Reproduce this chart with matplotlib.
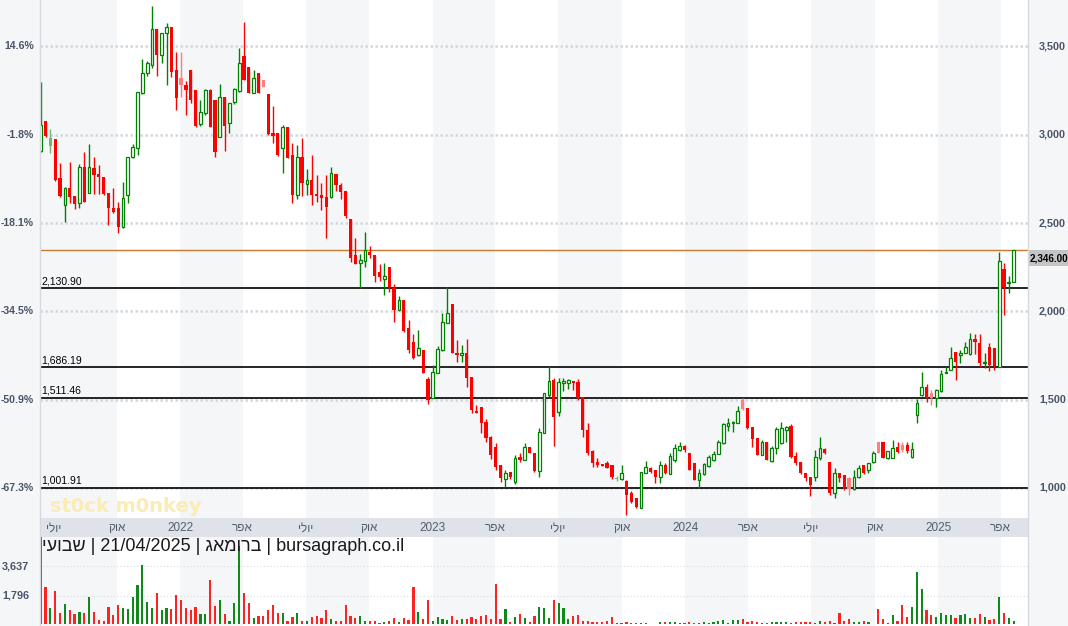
import matplotlib
matplotlib.use('Agg')
import matplotlib.pyplot as plt
import matplotlib.dates as mdates
import matplotlib.transforms as mtrans
from matplotlib.lines import Line2D
from matplotlib.patches import Rectangle
import numpy as np
import pandas as pd

plt.rcParams['font.family'] = ['Liberation Sans', 'DejaVu Sans']

# ---- weekly data ----
last_date = '2025-04-20'

opens = [2908, 3078, 2937, 2976, 2755, 2603, 2699, 2654, 2614, 2818,
         2671, 2812, 2778, 2761, 2671, 2586, 2586, 2478, 2659, 2874,
         2925, 3237, 3350, 3395, 3599, 3452, 3577, 3611, 3367, 3322,
         3282, 3367, 3254, 3061, 3124, 3254, 3197, 2988, 3214, 3067,
         3186, 3248, 3446, 3384, 3237, 3350, 3311, 3231, 3010, 3010,
         2925, 3044, 2886, 2659, 2874, 2721, 2744, 2665, 2659, 2648,
         2648, 2778, 2716, 2682, 2523, 2319, 2274, 2285, 2336, 2319,
         2223, 2183, 2251, 2133, 2008, 2065, 1906, 1827, 1753, 1781,
         1617, 1510, 1651, 1781, 1934, 2042, 1764, 1753, 1764, 1629,
         1436, 1459, 1374, 1289, 1232, 1130, 1051, 1091, 1034, 1176,
         1159, 1232, 1198, 1096, 1311, 1527, 1612, 1430, 1595, 1595,
         1606, 1600, 1515, 1328, 1210, 1147, 1136, 1142, 1130, 1051,
         1051, 1040, 972, 943, 886, 1085, 1113, 1102, 1062, 1130,
         1079, 1159, 1215, 1238, 1198, 1142, 1045, 1079, 1125, 1159,
         1193, 1255, 1351, 1368, 1368, 1498, 1453, 1345, 1283, 1187,
         1260, 1153, 1227, 1255, 1328, 1351, 1181, 1147, 1085, 1062,
         1062, 1170, 1221, 1147, 972, 1085, 1074, 1057, 994, 1062,
         1130, 1102, 1147, 1260, 1260, 1170, 1170, 1232, 1244, 1244,
         1176, 1413, 1527, 1572, 1538, 1510, 1549, 1651, 1668, 1770,
         1753, 1764, 1759, 1844, 1821, 1708, 1798, 1793, 1685, 2240,
         2161, 2167]

highs = [3299, 3080, 3033, 2976, 2840, 2704, 2846, 2654, 2835, 2903,
         2948, 2874, 2829, 2761, 2671, 2699, 2620, 2733, 2874, 2948,
         3243, 3429, 3418, 3729, 3599, 3577, 3633, 3611, 3469, 3469,
         3305, 3367, 3254, 3197, 3260, 3260, 3197, 3288, 3214, 3180,
         3265, 3492, 3639, 3384, 3367, 3350, 3311, 3231, 3163, 3010,
         3056, 3044, 2954, 2942, 2982, 2807, 2886, 2772, 2727, 2772,
         2818, 2778, 2727, 2682, 2523, 2416, 2325, 2450, 2370, 2319,
         2268, 2274, 2251, 2155, 2087, 2065, 1951, 1872, 1895, 1781,
         1629, 1696, 1804, 1991, 2138, 2042, 1838, 1810, 1844, 1629,
         1470, 1459, 1391, 1294, 1255, 1130, 1102, 1091, 1187, 1198,
         1255, 1232, 1198, 1340, 1538, 1691, 1623, 1623, 1623, 1617,
         1606, 1617, 1515, 1368, 1215, 1170, 1136, 1153, 1130, 1068,
         1130, 1045, 985, 943, 1091, 1153, 1119, 1102, 1153, 1142,
         1198, 1249, 1260, 1244, 1198, 1142, 1108, 1142, 1187, 1210,
         1272, 1368, 1396, 1379, 1464, 1510, 1453, 1345, 1283, 1272,
         1260, 1238, 1345, 1374, 1351, 1362, 1204, 1147, 1085, 1062,
         1215, 1289, 1227, 1147, 1113, 1085, 1074, 1062, 1102, 1130,
         1130, 1142, 1210, 1260, 1260, 1210, 1272, 1260, 1260, 1260,
         1260, 1504, 1657, 1589, 1555, 1561, 1668, 1685, 1798, 1770,
         1781, 1827, 1878, 1872, 1872, 1764, 1821, 1793, 2336, 2274,
         2200, 2350]

lows = [2903, 2990, 2897, 2738, 2648, 2506, 2614, 2580, 2586, 2620,
        2671, 2665, 2665, 2660, 2489, 2557, 2444, 2472, 2614, 2869,
        2886, 3231, 3333, 3378, 3333, 3407, 3282, 3327, 3140, 3214,
        3112, 3180, 3044, 3050, 3112, 3044, 2874, 2988, 2908, 3010,
        3175, 3243, 3311, 3237, 3237, 3237, 3271, 2999, 2954, 2880,
        2784, 2869, 2614, 2637, 2654, 2659, 2603, 2620, 2574, 2416,
        2642, 2682, 2637, 2529, 2280, 2268, 2133, 2251, 2302, 2167,
        2172, 2093, 2110, 1940, 2002, 1884, 1764, 1730, 1747, 1651,
        1476, 1510, 1651, 1776, 1934, 1764, 1713, 1713, 1572, 1425,
        1425, 1311, 1260, 1164, 1102, 1034, 1006, 1051, 1023, 1147,
        1159, 1198, 1091, 1062, 1311, 1515, 1238, 1408, 1550, 1561,
        1555, 1498, 1289, 1187, 1119, 1119, 1125, 1113, 1051, 1040,
        1045, 847, 915, 886, 886, 1085, 1085, 1028, 1028, 1080,
        1079, 1147, 1210, 1204, 1102, 1045, 1000, 1074, 1119, 1153,
        1193, 1249, 1323, 1317, 1368, 1442, 1334, 1232, 1187, 1187,
        1159, 1147, 1193, 1249, 1260, 1170, 1130, 1079, 1040, 955,
        1040, 1159, 1193, 960, 943, 1034, 989, 960, 989, 1057,
        1079, 1085, 1142, 1198, 1170, 1165, 1170, 1198, 1204, 1198,
        1170, 1368, 1521, 1487, 1470, 1459, 1544, 1651, 1668, 1612,
        1708, 1764, 1753, 1759, 1685, 1679, 1662, 1668, 1685, 1980,
        2104, 2167]

closes = [3054, 2993, 2982, 2744, 2654, 2699, 2648, 2608, 2818, 2620,
          2818, 2772, 2761, 2665, 2586, 2563, 2478, 2642, 2874, 2931,
          3243, 3350, 3407, 3599, 3452, 3577, 3611, 3356, 3209, 3282,
          3254, 3197, 3050, 3129, 3254, 3044, 2903, 3214, 3050, 3180,
          3260, 3407, 3311, 3237, 3322, 3237, 3271, 3005, 2993, 2886,
          3044, 2869, 2659, 2874, 2727, 2744, 2659, 2654, 2642, 2591,
          2784, 2716, 2676, 2540, 2302, 2268, 2291, 2348, 2319, 2200,
          2195, 2200, 2138, 2008, 2065, 1889, 1781, 1736, 1793, 1651,
          1498, 1657, 1787, 1940, 1991, 1764, 1753, 1764, 1623, 1442,
          1425, 1368, 1283, 1187, 1119, 1057, 1085, 1062, 1170, 1159,
          1232, 1198, 1096, 1317, 1538, 1606, 1402, 1600, 1606, 1612,
          1595, 1510, 1328, 1198, 1142, 1130, 1125, 1113, 1062, 1057,
          1085, 960, 921, 892, 1091, 1119, 1091, 1062, 1130, 1085,
          1181, 1227, 1238, 1215, 1102, 1045, 1085, 1136, 1176, 1193,
          1260, 1362, 1368, 1374, 1436, 1447, 1340, 1277, 1187, 1260,
          1159, 1227, 1334, 1340, 1345, 1176, 1142, 1085, 1057, 1017,
          1176, 1227, 1198, 972, 1085, 1057, 994, 994, 1062, 1113,
          1085, 1142, 1198, 1198, 1170, 1210, 1227, 1204, 1215, 1210,
          1221, 1481, 1572, 1510, 1510, 1555, 1646, 1657, 1736, 1713,
          1764, 1798, 1844, 1827, 1708, 1713, 1696, 1691, 2285, 2138,
          2167, 2346]

volumes = [5600, 2310, 1000, 2080, 690, 1250, 890, 620, 750, 690,
           1680, 750, 270, 210, 1060, 580, 1190, 1000, 960, 1680,
           2430, 3700, 1390, 1040, 1930, 890, 1000, 980, 1810, 1520,
           1000, 890, 1060, 620, 620, 2770, 1140, 1520, 620, 210,
           1310, 4890, 1930, 1310, 370, 520, 520, 890, 1210, 730,
           690, 230, 480, 690, 230, 210, 440, 520, 370, 890,
           330, 210, 210, 1190, 520, 370, 520, 210, 210, 210,
           100, 170, 210, 370, 170, 370, 270, 2310, 750, 330,
           1520, 210, 480, 330, 270, 520, 270, 310, 310, 440,
           310, 520, 560, 330, 2520, 310, 960, 170, 480, 620,
           370, 170, 520, 1070, 1000, 420, 1530, 1320, 1000, 340,
           520, 590, 210, 210, 120, 120, 120, 210, 440, 60,
           90, 130, 110, 90, 110, 110, 50, 50, 130, 170,
           170, 130, 90, 90, 130, 110, 70, 130, 90, 130,
           210, 270, 110, 270, 270, 330, 170, 210, 130, 110,
           110, 130, 130, 130, 130, 110, 130, 130, 130, 130,
           110, 210, 170, 210, 70, 690, 210, 330, 170, 130,
           210, 130, 40, 960, 330, 70, 570, 210, 1220, 480,
           1110, 3260, 2200, 900, 590, 440, 690, 590, 590, 420,
           590, 650, 420, 420, 650, 440, 270, 330, 1680, 690,
           380, 210]

levels = [2130.90, 1686.19, 1511.46, 1001.91]
price_ticks = [1000, 1500, 2000, 2500, 3000, 3500]
vol_ticks = [1796, 3637]
month_labels = ['ילוי', 'קוא', '2022', 'רפא', 'ילוי', 'קוא', '2023', 'רפא',
                'ילוי', 'קוא', '2024', 'רפא', 'ילוי', 'קוא', '2025', 'רפא']
caption = 'יעובש | 21/04/2025 | גאמורב | bursagraph.co.il'

# ---- layout ----
W, H = 1068, 626
fig = plt.figure(figsize=(W / 100, H / 100), dpi=100, facecolor='#f5f6f8')

def add_box(x0, y0, x1, y1):
    a = fig.add_axes([x0 / W, 1 - y1 / H, (x1 - x0) / W, (y1 - y0) / H])
    for s in a.spines.values():
        s.set_visible(False)
    a.set_xticks([])
    a.set_yticks([])
    return a

ax = add_box(40, 0, 1028, 518)
band = add_box(40, 518, 1028, 537)
vax = add_box(40, 537, 1028, 626)
PW = 988.0  # plot width in px

o = np.array(opens, float)
h = np.array(highs, float)
l = np.array(lows, float)
c = np.array(closes, float)
v = np.array(volumes, float)

dates = pd.date_range(end=last_date, periods=len(c), freq='7D')
xd = mdates.date2num(dates)
xlim = (xd[0] - 1.0, xd[-1] + 20.7)
for a in (ax, band, vax):
    a.set_xlim(*xlim)
ylim = (830, 3763)
ax.set_ylim(*ylim)
vax.set_ylim(-100, 5456)
band.set_ylim(0, 1)
band.set_facecolor('#dfe3e9')

# quarter shading (Jan-Mar, Jul-Sep)
qstarts = pd.date_range('2021-07-01', '2025-01-01', freq='6MS')
for i, qs in enumerate(qstarts):
    qe = mdates.date2num(qs + pd.DateOffset(months=3))
    q0 = xlim[0] if i == 0 else mdates.date2num(qs)
    for a in (ax, vax):
        a.axvspan(q0, qe, color='#f5f6f8', zorder=0, lw=0)

# month labels
mstarts = pd.date_range('2021-07-01', '2025-04-01', freq='3MS')
for d, lab in zip(mstarts, month_labels):
    band.text(mdates.date2num(d), 0.45, lab, ha='center', va='center',
              fontsize=8.5, color='#555d6b', clip_on=True)

# grid
for p in price_ticks:
    ax.axhline(p, color='#d3d8df', lw=1.8, ls=(0, (1, 1)), zorder=1)
for vv in vol_ticks:
    vax.axhline(vv, color='#d8dce2', lw=0.8, ls=(0, (1, 2)), zorder=1)

# labels on both sides
tr = mtrans.blended_transform_factory(ax.transAxes, ax.transData)
base = c[0]
for p in price_ticks:
    pct = (p / base - 1) * 100
    ax.text(-6 / PW, p, f'{pct:.1f}%', transform=tr, ha='right', va='center',
            fontsize=7.6, fontweight='bold', color='#4a5468', clip_on=False)
    ax.text(1 + 38 / PW, p, f'{p:,}', transform=tr, ha='right', va='center',
            fontsize=7.8, fontweight='bold', color='#4a5468', clip_on=False)

vtr = mtrans.blended_transform_factory(vax.transAxes, vax.transData)
for vv in vol_ticks:
    vax.text(-38 / PW, vv, f'{vv:,}', transform=vtr, ha='left', va='center',
             fontsize=7.8, fontweight='bold', color='#4a5468', clip_on=False)

# support / resistance lines
for lv in levels:
    ax.axhline(lv, color='black', lw=1.2, zorder=3)
    ax.text(0.001, lv + 10, f'{lv:,.2f}', transform=tr, ha='left', va='bottom',
            fontsize=7.5, color='black', zorder=3)

# last price line and box
ax.axhline(c[-1], color='#c8782f', lw=1, zorder=3)
ppx = H - 518 + (c[-1] - ylim[0]) / (ylim[1] - ylim[0]) * 518  # price in fig px from bottom
fig.add_artist(Rectangle((1028.5 / W, (ppx - 16) / H), 39.5 / W, 16 / H,
                         facecolor='#c4c4c4', edgecolor='none', transform=fig.transFigure))
fig.text(1029.5 / W, (ppx - 8) / H, f'{c[-1]:,.2f}', ha='left', va='center',
         fontsize=7.1, fontweight='bold', color='black')

# watermark
ax.text(10 / PW, 0.022, 'st0ck m0nkey', transform=ax.transAxes, ha='left', va='center',
        fontsize=14, fontweight='bold', color='#fbebb4', family='DejaVu Sans', zorder=2)

# candles
prev = np.r_[c[0], c[:-1]]
up = c >= o
strong_up = up & (c >= prev)
weak_up = up & ~strong_up
strong_dn = ~up & (c < prev)
weak_dn = ~up & ~strong_dn

dark_g, light_g = '#008000', '#72b872'
dark_r, light_r = '#ff0000', '#ff7f7f'
wick_cols = np.where(strong_up, dark_g, np.where(weak_up, light_g, np.where(strong_dn, dark_r, light_r)))
ax.vlines(xd, l, h, colors=wick_cols, lw=1, zorder=4)

day_px = PW / (xlim[1] - xlim[0])
bw = 3.2 / day_px
bottom = np.minimum(o, c)
height = np.maximum(np.abs(c - o), 6)
ax.bar(xd[strong_up], height[strong_up], bottom=bottom[strong_up], width=bw * 0.85,
       facecolor='white', edgecolor=dark_g, lw=0.9, zorder=5)
ax.bar(xd[weak_up], height[weak_up], bottom=bottom[weak_up], width=bw,
       color=light_g, lw=0, zorder=5)
ax.bar(xd[strong_dn], height[strong_dn], bottom=bottom[strong_dn], width=bw,
       color=dark_r, lw=0, zorder=5)
ax.bar(xd[weak_dn], height[weak_dn], bottom=bottom[weak_dn], width=bw,
       color=light_r, lw=0, zorder=5)

# volume
vcols = np.where(up, '#11881a', '#ff2222')
vax.bar(xd, v, width=2.2 / day_px, color=vcols, lw=0, zorder=3)

vax.text(2 / PW, 0.985, caption, transform=vax.transAxes, ha='left', va='top',
         fontsize=13, color='#1a1a1a', clip_on=True, zorder=4)

# frame lines
for xx in (40, 1028):
    fig.add_artist(Line2D([xx / W, xx / W], [0, 1], color='#d6dae0', lw=1))

fig.savefig('out.png', dpi=100, facecolor=fig.get_facecolor())
